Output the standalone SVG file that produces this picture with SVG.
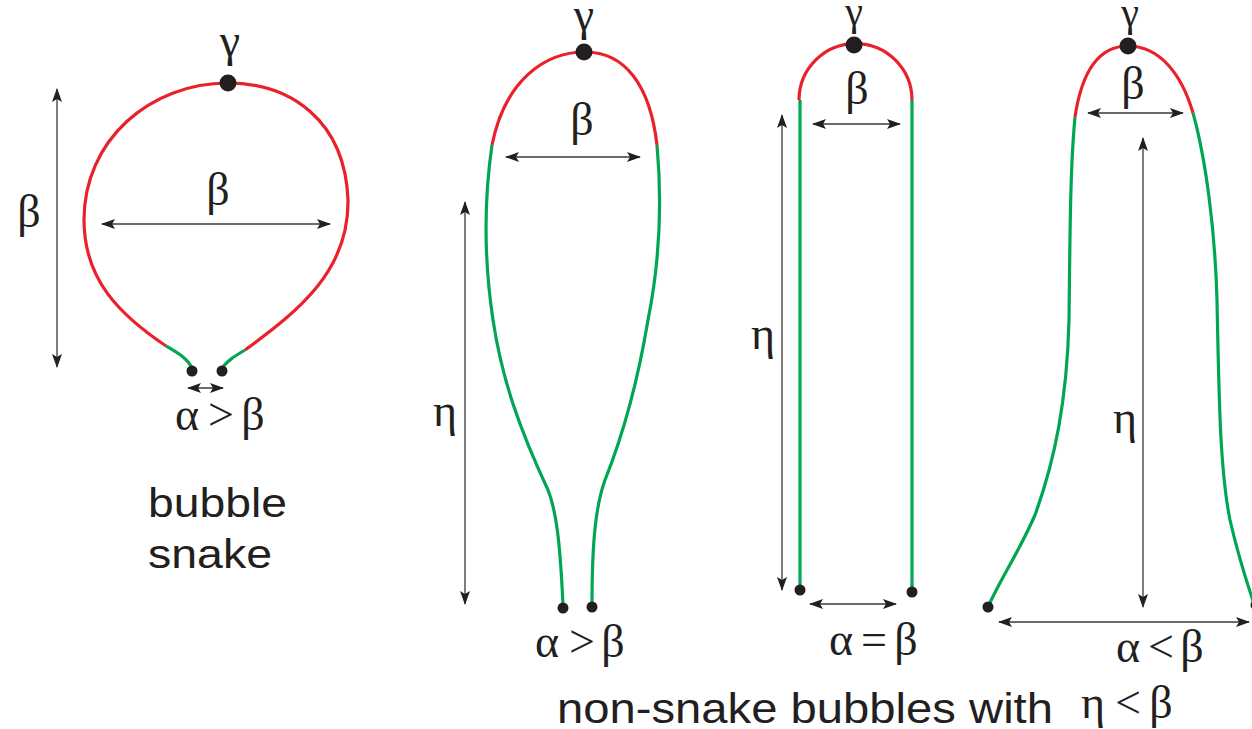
<svg xmlns="http://www.w3.org/2000/svg" width="1252" height="729" viewBox="0 0 1252 729">
<style>
.red{fill:none;stroke:#e8212a;stroke-width:3.2;stroke-linecap:butt}
.grn{fill:none;stroke:#00a651;stroke-width:3.2;stroke-linecap:butt}
.arr{fill:none;stroke:#3a3a3a;stroke-width:1.3;marker-start:url(#ah);marker-end:url(#ah)}
.g{font-family:"Liberation Serif","DejaVu Serif",serif;font-size:46px;fill:#231f20;text-anchor:middle}
.gs{font-family:"Liberation Serif","DejaVu Serif",serif;font-size:40px;fill:#231f20;text-anchor:middle}
.s{font-family:"Liberation Sans",Arial,sans-serif;fill:#231f20}
.dot{fill:#231f20}
</style>
<defs>
<marker id="ah" viewBox="0 0 14 10" refX="13" refY="5" markerWidth="14" markerHeight="10" markerUnits="userSpaceOnUse" orient="auto-start-reverse">
<path d="M0,0 L14,5 L0,10 L3,5 z" fill="#231f20"/>
</marker>
</defs>

<g id="bubble-snake">
<path class="red" d="M166,346 C120,315 84,280 84,220 C84,140 150,83 228,83 C290,83 345,120 348,200 C349,270 300,310 245,350"/>
<path class="grn" d="M166,346 C178,353 187,358 192,368"/>
<path class="grn" d="M245,350 C235,356 228,360 222,368"/>
<circle class="dot" cx="228" cy="83" r="8.5"/>
<circle class="dot" cx="192" cy="371" r="5.5"/>
<circle class="dot" cx="222" cy="371" r="5.5"/>
<text class="g" x="230" y="56">γ</text>
<text class="g" x="218" y="205">β</text>
<text class="g" x="29" y="227">β</text>
<text class="g" y="430"><tspan x="187">α</tspan><tspan x="221">&gt;</tspan><tspan x="253">β</tspan></text>
<text class="s" x="148" y="517" font-size="41" textLength="139" lengthAdjust="spacingAndGlyphs">bubble</text>
<text class="s" x="148" y="568" font-size="41" textLength="124" lengthAdjust="spacingAndGlyphs">snake</text>
</g>

<g id="bubble-2">
<path class="red" d="M492,145 C505,80 545,52 585,52 C625,52 650,85 657,145"/>
<path class="grn" d="M492,145 C484,200 484,260 493,320 C502,380 520,430 548,490 C556,510 560,540 563,605"/>
<path class="grn" d="M657,145 C662,200 660,260 648,320 C638,380 625,430 605,480 C596,505 592,540 592,605"/>
<circle class="dot" cx="584" cy="52" r="8.5"/>
<circle class="dot" cx="563" cy="608" r="5.5"/>
<circle class="dot" cx="592" cy="607" r="5.5"/>
<text class="g" x="584" y="30">γ</text>
<text class="g" x="582" y="135">β</text>
<text class="g" x="445" y="426">η</text>
<text class="g" y="657"><tspan x="547">α</tspan><tspan x="582">&gt;</tspan><tspan x="613">β</tspan></text>
</g>

<g id="bubble-3">
<path class="red" d="M799,100 A56.5,56.5 0 0 1 912,100"/>
<path class="grn" d="M800,100 L800,590 M912,100 L912,591"/>
<circle class="dot" cx="854" cy="45" r="8.5"/>
<circle class="dot" cx="800" cy="590" r="5.5"/>
<circle class="dot" cx="912" cy="592" r="5.5"/>
<text class="gs" x="854" y="25">γ</text>
<text class="g" x="857" y="104">β</text>
<text class="g" x="763" y="349">η</text>
<text class="g" y="655"><tspan x="841">α</tspan><tspan x="874">=</tspan><tspan x="906">β</tspan></text>
</g>

<g id="bubble-4">
<path class="red" d="M1075,117 C1082,70 1100,46 1128,46 C1160,46 1182,75 1193,113"/>
<path class="grn" d="M1075,117 C1070,170 1070,240 1069,320 C1067,400 1055,460 1035,515 C1020,550 1000,580 989,605"/>
<path class="grn" d="M1193,113 C1206,160 1215,230 1217,300 C1219,400 1220,470 1230,520 C1238,555 1246,580 1254,604"/>
<circle class="dot" cx="1128" cy="46" r="8.5"/>
<circle class="dot" cx="988" cy="607" r="5.5"/>
<circle class="dot" cx="1256" cy="605" r="5.5"/>
<text class="gs" x="1130" y="26">γ</text>
<text class="g" x="1133" y="99">β</text>
<text class="g" x="1125" y="433">η</text>
<text class="g" y="662"><tspan x="1128">α</tspan><tspan x="1161">&lt;</tspan><tspan x="1192">β</tspan></text>
</g>

<g id="caption">
<text class="s" x="557" y="723" font-size="42" textLength="496" lengthAdjust="spacingAndGlyphs">non-snake bubbles with</text>
<text class="g" y="718"><tspan x="1093">η</tspan><tspan x="1128">&lt;</tspan><tspan x="1161">β</tspan></text>
</g>

<g id="connectors">
<path class="arr" d="M57,89 L57,367"/>
<path class="arr" d="M102,224 L330,224"/>
<path class="arr" d="M188,388 L223,388"/>
<path class="arr" d="M506,157 L640,157"/>
<path class="arr" d="M465,202 L465,604"/>
<path class="arr" d="M813,124 L900,124"/>
<path class="arr" d="M782,115 L782,590"/>
<path class="arr" d="M810,604 L896,604"/>
<path class="arr" d="M1088,113 L1183,113"/>
<path class="arr" d="M1143,138 L1143,607"/>
<path class="arr" d="M999,622 L1249,622"/>
</g>
</svg>
